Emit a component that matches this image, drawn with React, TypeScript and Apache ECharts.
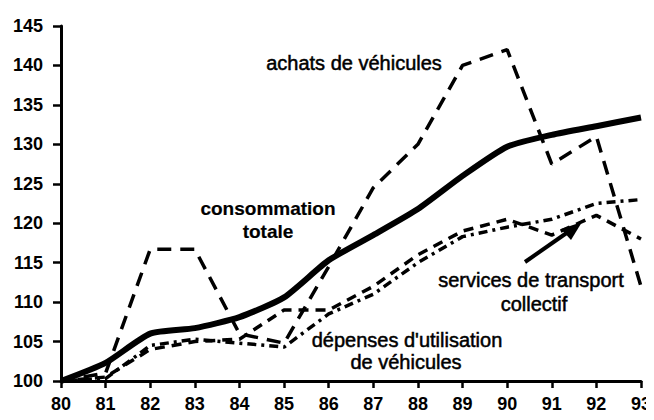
import React, { useEffect, useRef } from "react";
import * as echarts from "echarts";

const years = [80, 81, 82, 83, 84, 85, 86, 87, 88, 89, 90, 91, 92, 93];
const consommationTotale = [100, 102.3, 106, 106.7, 108.1, 110.6, 115.3, 118.5, 121.8, 126, 129.7, 131.2, 132.3, 133.4];
const achatsVehicules = [100, 101, 116.7, 116.7, 106, 104.8, 114.5, 124.5, 130, 140, 142, 127.5, 131, 112];
const depensesUtilisation = [100, 100.5, 104, 105, 105.3, 109, 109, 112, 116, 119, 120.5, 118.5, 121, 118];
const servicesTransport = [100, 100.3, 104.5, 105.3, 104.8, 104.3, 108.5, 111, 115, 118.3, 119.5, 120.5, 122.5, 123];
const yTicks = [100, 105, 110, 115, 120, 125, 130, 135, 140, 145];

const FONT = "'Liberation Sans', Arial, sans-serif";

function pairs(vals: number[]) {
  return vals.map((v, i) => [years[i], v]);
}

export default function App() {
  const ref = useRef<HTMLDivElement>(null);
  useEffect(() => {
    if (!ref.current) return;
    const chart = echarts.init(ref.current, null, { renderer: "svg" });
    const textStyle = (extra: any = {}) => ({
      fill: "#000",
      font: `20px ${FONT}`,
      textAlign: "center",
      textVerticalAlign: "middle",
      stroke: "#000",
      lineWidth: 0.5,
      ...extra,
    });
    chart.setOption({
      animation: false,
      backgroundColor: "#fff",
      grid: { left: 61, right: 9, top: 26, bottom: 39 },
      xAxis: {
        type: "value",
        min: 80,
        max: 93,
        interval: 1,
        splitLine: { show: false },
        axisLine: { lineStyle: { color: "#000", width: 3 } },
        axisTick: { show: true, length: 7, lineStyle: { color: "#000", width: 2.5 } },
        axisLabel: { color: "#000", fontSize: 18, fontFamily: FONT, fontWeight: "bold", margin: 14 },
      },
      yAxis: {
        type: "value",
        min: yTicks[0],
        max: yTicks[yTicks.length - 1],
        interval: 5,
        splitLine: { show: false },
        axisLine: { show: true, lineStyle: { color: "#000", width: 3 } },
        axisTick: { show: true, length: 8, lineStyle: { color: "#000", width: 2.5 } },
        axisLabel: { color: "#000", fontSize: 18, fontFamily: FONT, fontWeight: "bold", margin: 18 },
      },
      series: [
        {
          name: "consommation totale",
          type: "line",
          data: pairs(consommationTotale),
          symbol: "none",
          smooth: 0.2,
          lineStyle: { color: "#000", width: 6 },
          z: 5,
        },
        {
          name: "achats de véhicules",
          type: "line",
          data: pairs(achatsVehicules),
          symbol: "none",
          lineStyle: { color: "#000", width: 3.5, type: [14, 9] },
        },
        {
          name: "dépenses d'utilisation de véhicules",
          type: "line",
          data: pairs(depensesUtilisation),
          symbol: "none",
          lineStyle: { color: "#000", width: 3.5, type: [10, 7] },
        },
        {
          name: "services de transport collectif",
          type: "line",
          data: pairs(servicesTransport),
          symbol: "none",
          lineStyle: { color: "#000", width: 3.5, type: [9, 5, 3, 5] },
        },
      ],
      graphic: [
        { type: "text", x: 354, y: 63, style: textStyle({ text: "achats de véhicules" }) },
        {
          type: "text",
          x: 268,
          y: 220,
          style: textStyle({ text: "consommation\ntotale", font: `bold 19px ${FONT}`, lineHeight: 23, lineWidth: 0.2 }),
        },
        { type: "text", x: 531, y: 280, style: textStyle({ text: "services de transport" }) },
        { type: "text", x: 534, y: 304, style: textStyle({ text: "collectif" }) },
        { type: "text", x: 407, y: 340, style: textStyle({ text: "dépenses d'utilisation" }) },
        { type: "text", x: 406, y: 362, style: textStyle({ text: "de véhicules" }) },
        {
          type: "line",
          shape: { x1: 525, y1: 262, x2: 568, y2: 232 },
          style: { stroke: "#000", lineWidth: 4 },
        },
        {
          type: "polygon",
          shape: { points: [[582, 222], [561, 229], [571, 240]] },
          style: { fill: "#000" },
        },
      ],
    });
    return () => chart.dispose();
  }, []);
  return <div ref={ref} style={{ width: 654, height: 420, margin: -8 }} />;
}
